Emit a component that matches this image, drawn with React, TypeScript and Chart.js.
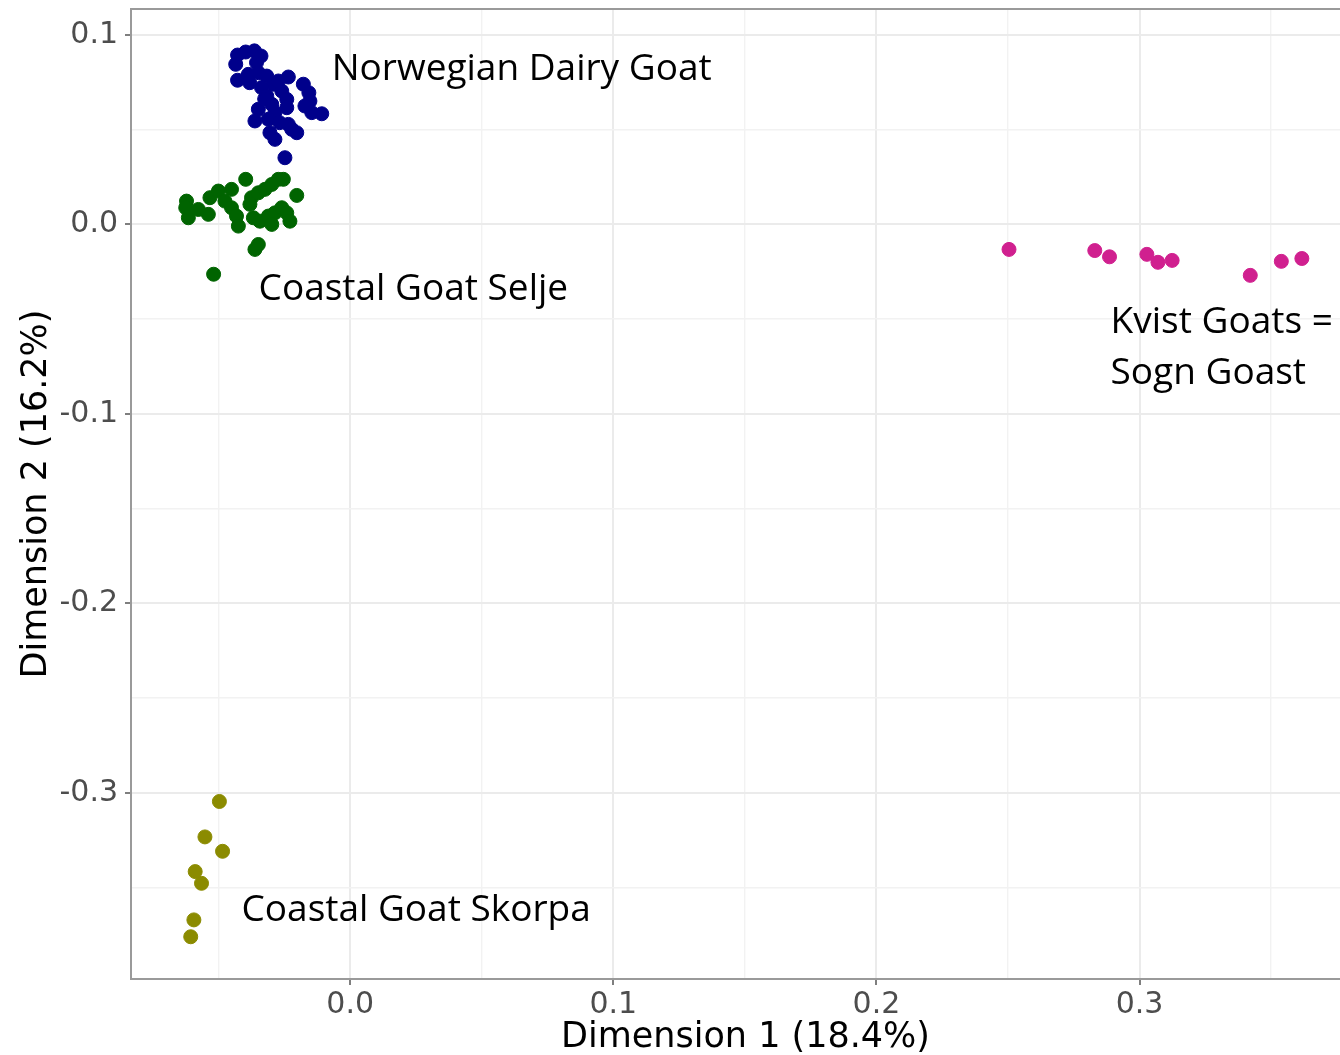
import React, { useEffect, useRef } from "react";
import { Chart, registerables } from "chart.js";

Chart.register(...registerables);

// ---- Data ----
const groupNames = ["Norwegian Dairy Goat", "Coastal Goat Selje", "Coastal Goat Skorpa", "Kvist Goats"];
const groupColors = ["#00008B", "#006400", "#8B8B00", "#D0208F"];

const norwegianX = [
  -0.0428, -0.0397, -0.0364, -0.0339, -0.0435, -0.0356, -0.0428, -0.0387, -0.0349, -0.0317,
  -0.0235, -0.0178, -0.0157, -0.0153, -0.0172, -0.0108, -0.0146, -0.0292, -0.0337, -0.0260,
  -0.0317, -0.0241, -0.0298, -0.0241, -0.0349, -0.0286, -0.0362, -0.0311, -0.0235, -0.0203,
  -0.0305, -0.0286, -0.0248, -0.0268, -0.0222, -0.0325, -0.0273, -0.0382,
];
const norwegianY = [
  0.0894, 0.0910, 0.0916, 0.0889, 0.0845, 0.0854, 0.0761, 0.0792, 0.0801, 0.0783,
  0.0778, 0.0740, 0.0695, 0.0651, 0.0625, 0.0584, 0.0590, 0.0740, 0.0722, 0.0704,
  0.0678, 0.0660, 0.0634, 0.0616, 0.0608, 0.0590, 0.0546, 0.0555, 0.0528, 0.0484,
  0.0484, 0.0449, 0.0352, 0.0537, 0.0502, 0.0662, 0.0757, 0.0748,
];

const seljeX = [
  -0.0622, -0.0625, -0.0615, -0.0577, -0.0539, -0.0533, -0.0501, -0.0451, -0.0476, -0.0451,
  -0.0432, -0.0425, -0.0397, -0.0375, -0.0381, -0.0349, -0.0324, -0.0298, -0.0273, -0.0254,
  -0.0203, -0.0368, -0.0343, -0.0311, -0.0286, -0.0260, -0.0241, -0.0298, -0.0229, -0.0349,
  -0.0362, -0.0519,
];
const seljeY = [
  0.0123, 0.0088, 0.0035, 0.0079, 0.0053, 0.0141, 0.0176, 0.0185, 0.0123, 0.0088,
  0.0044, -0.0009, 0.0238, 0.0141, 0.0106, 0.0167, 0.0185, 0.0211, 0.0238, 0.0238,
  0.0153, 0.0035, 0.0017, 0.0044, 0.0061, 0.0088, 0.0061, 0.0000, 0.0017, -0.0106,
  -0.0132, -0.0263,
];

const skorpaX = [-0.0497, -0.0552, -0.0485, -0.0589, -0.0565, -0.0594, -0.0606];
const skorpaY = [-0.3046, -0.3233, -0.3309, -0.3416, -0.3478, -0.3671, -0.3760];

const kvistX = [0.2504, 0.2830, 0.2886, 0.3028, 0.3070, 0.3124, 0.3421, 0.3539, 0.3617];
const kvistY = [-0.0132, -0.0138, -0.0171, -0.0158, -0.0200, -0.0190, -0.0269, -0.0195, -0.0180];

const groupX = [norwegianX, seljeX, skorpaX, kvistX];
const groupY = [norwegianY, seljeY, skorpaY, kvistY];

// Axis settings
const xTitle = "Dimension 1 (18.4%)";
const yTitle = "Dimension 2 (16.2%)";
const xRange = [-0.0833, 0.3838];
const yRange = [-0.3983, 0.1137];
const tickStep = 0.05;

// Text annotations (left / baseline anchored, in data units)
const labelTexts = ["Norwegian Dairy Goat", "Coastal Goat Selje", "Kvist Goats =", "Sogn Goast", "Coastal Goat Skorpa"];
const labelX = [-0.0070, -0.0348, 0.2890, 0.2890, -0.0413];
const labelY = [0.0762, -0.0400, -0.0574, -0.0844, -0.3675];

const isMajor = (v: number) => Math.abs(v * 10 - Math.round(v * 10)) < 1e-6;
const fmt = (v: number) => (isMajor(v) ? (Math.round(v * 10) / 10).toFixed(1) : "");

const decorPlugin = {
  id: "decor",
  afterDatasetsDraw(chart: any) {
    const { ctx, chartArea, scales } = chart;
    const { left, right, top, bottom } = chartArea;
    ctx.save();
    // panel border
    ctx.strokeStyle = "#9A9A9A";
    ctx.lineWidth = 2;
    ctx.strokeRect(left, top, right - left, bottom - top);
    // annotations
    ctx.fillStyle = "#000000";
    ctx.font = '37px "Open Sans"';
    ctx.textAlign = "left";
    ctx.textBaseline = "alphabetic";
    for (let i = 0; i < labelTexts.length; i++) {
      ctx.fillText(labelTexts[i], scales.x.getPixelForValue(labelX[i]), scales.y.getPixelForValue(labelY[i]));
    }
    // axis titles
    ctx.font = '35px "DejaVu Sans"';
    ctx.textAlign = "center";
    ctx.fillText(xTitle, (left + right) / 2, bottom + 67.7);
    ctx.translate(46, (top + bottom) / 2);
    ctx.rotate(-Math.PI / 2);
    ctx.fillText(yTitle, 0, 0);
    ctx.restore();
  },
};

export default function App() {
  const canvasRef = useRef<HTMLCanvasElement | null>(null);

  useEffect(() => {
    if (!canvasRef.current) return;
    const datasets = groupNames.map((name, g) => ({
      label: name,
      data: groupX[g].map((x, i) => ({ x, y: groupY[g][i] })),
      backgroundColor: groupColors[g],
      borderColor: groupColors[g],
      borderWidth: 1,
      pointRadius: 7,
      pointHoverRadius: 7,
    }));

    const gridCommon = {
      color: (c: any) => (c.tick && isMajor(c.tick.value) ? "#EBEBEB" : "#F2F2F2"),
      lineWidth: (c: any) => (c.tick && isMajor(c.tick.value) ? 2 : 1.4),
      drawTicks: true,
      tickLength: 6,
      tickWidth: 1.5,
      tickColor: (c: any) => (c.tick && isMajor(c.tick.value) ? "#555555" : "rgba(0,0,0,0)"),
    };

    const chart = new Chart(canvasRef.current, {
      type: "scatter",
      data: { datasets },
      plugins: [decorPlugin],
      options: {
        animation: false,
        responsive: false,
        devicePixelRatio: 1,
        layout: { padding: { top: 9, right: 0, left: 0, bottom: 0 } },
        plugins: { legend: { display: false }, tooltip: { enabled: false } },
        scales: {
          x: {
            type: "linear",
            min: xRange[0],
            max: xRange[1],
            border: { display: false },
            grid: gridCommon as any,
            ticks: {
              stepSize: tickStep,
              includeBounds: false,
              autoSkip: false,
              maxRotation: 0,
              padding: 2,
              color: "#4D4D4D",
              font: { family: "DejaVu Sans", size: 30 },
              callback: (v: any) => fmt(Number(v)),
            },
            afterFit: (s: any) => {
              s.height = 76;
              s.paddingLeft = 0;
              s.paddingRight = 0;
            },
          },
          y: {
            type: "linear",
            min: yRange[0],
            max: yRange[1],
            border: { display: false },
            grid: gridCommon as any,
            ticks: {
              stepSize: tickStep,
              includeBounds: false,
              autoSkip: false,
              padding: 7,
              color: "#4D4D4D",
              font: { family: "DejaVu Sans", size: 30 },
              callback: (v: any) => fmt(Number(v)),
            },
            afterFit: (s: any) => {
              s.width = 131;
              s.paddingTop = 0;
              s.paddingBottom = 0;
            },
          },
        },
      },
    });
    return () => chart.destroy();
  }, []);

  return (
    <div
      style={{
        position: "absolute",
        left: 0,
        top: 0,
        width: 1340,
        height: 1055,
        overflow: "hidden",
        background: "#ffffff",
      }}
    >
      <canvas ref={canvasRef} width={1368} height={1055} style={{ display: "block", width: 1368, height: 1055 }} />
    </div>
  );
}
